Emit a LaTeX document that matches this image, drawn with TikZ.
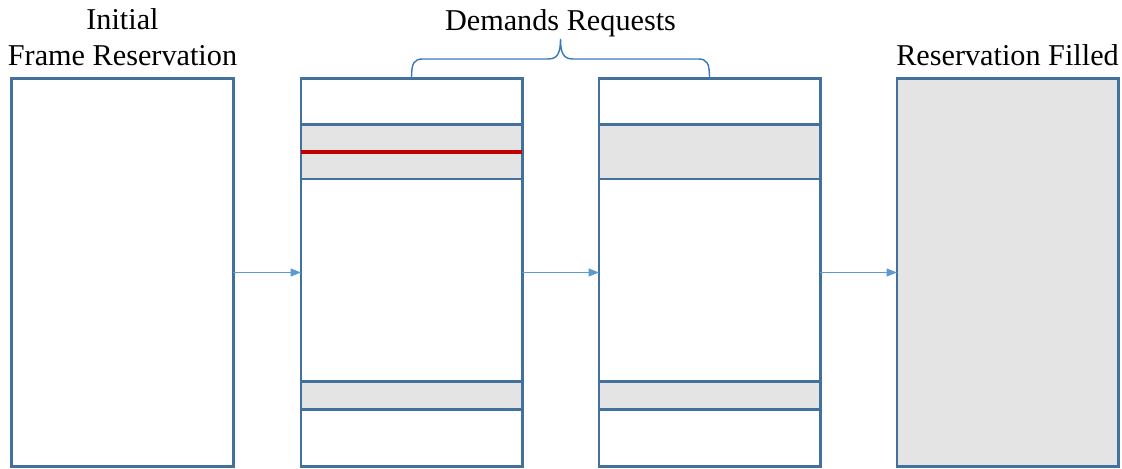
\documentclass[tikz,border=0pt]{standalone}
\usepackage{fontspec}
\setmainfont{Liberation Serif}
\usepackage{tikz}
\usetikzlibrary{arrows.meta, positioning, calc}
\definecolor{framecol}{HTML}{41719C}
\definecolor{bandgray}{HTML}{E4E4E4}
\definecolor{markred}{HTML}{C00000}
\definecolor{arrowcol}{HTML}{5B9BD5}
\definecolor{bracecol}{HTML}{3A78B8}

\begin{document}
\begin{tikzpicture}[
    x=0.025cm, y=-0.025cm,
    title/.style={font=\fontsize{21.5}{25.6}\selectfont, align=center, inner sep=0pt},
    frame/.style={rectangle, draw=framecol, line width=2.1pt, fill=white, minimum width=5.525cm, minimum height=9.675cm, outer sep=0pt, inner sep=0pt},
    band/.style={rectangle, draw=framecol, line width=2.1pt, fill=bandgray, minimum width=5.525cm, outer sep=0pt, inner sep=0pt},
    marker/.style={draw=markred, line width=2.8pt},
    brace/.style={draw=bracecol, line width=1pt},
    arrow/.style={-{Triangle[length=2.6mm, width=2mm]}, draw=arrowcol, line width=0.8pt}
]
\useasboundingbox (0,0) rectangle (1122,468);
\node[frame] (init_frame) at (122.5,272.5) {};
\node[frame] (dem_a) at (411.5,272.5) {};
\node[frame] (dem_b) at (709.5,272.5) {};
\node[frame, fill=bandgray] (filled) at (1007.5,272.5) {};
\node[band, minimum height=1.35cm, below=1.15cm of dem_a.north, anchor=north] (dem_a_top) {};
\node[band, minimum height=0.7cm, above=1.425cm of dem_a.south, anchor=south] (dem_a_low) {};
\node[band, minimum height=1.35cm, below=1.15cm of dem_b.north, anchor=north] (dem_b_top) {};
\node[band, minimum height=0.7cm, above=1.425cm of dem_b.south, anchor=south] (dem_b_low) {};
\draw[marker] (dem_a_top.west) -- (dem_a_top.east);
\node[title, above=0.325cm of init_frame] (init_lbl) {Initial\\Frame Reservation};
\node[title, above=0.325cm of filled] (filled_lbl) {Reservation Filled};
\coordinate (brace_l) at (dem_a.north);
\coordinate (brace_r) at (dem_b.north);
\coordinate (brace_tip) at ($(brace_l)!0.5!(brace_r)+(0,-40)$);
\node[title, anchor=base] (dem_lbl) at ($(brace_tip)+(0,-8)$) {Demands Requests};
\draw[brace] (brace_l) .. controls ($(brace_l)+(0,-16)$) and ($(brace_l)+(2,-20)$) .. ($(brace_l)+(12,-20)$)
    -- ($(brace_tip)+(-12,20)$) .. controls ($(brace_tip)+(-3,20)$) and ($(brace_tip)+(0,14)$) .. (brace_tip)
    .. controls ($(brace_tip)+(0,14)$) and ($(brace_tip)+(3,20)$) .. ($(brace_tip)+(12,20)$)
    -- ($(brace_r)+(-12,-20)$) .. controls ($(brace_r)+(-2,-20)$) and ($(brace_r)+(0,-16)$) .. (brace_r);
\draw[arrow] (init_frame) -- (dem_a);
\draw[arrow] (dem_a) -- (dem_b);
\draw[arrow] (dem_b) -- (filled);
\end{tikzpicture}
\end{document}
